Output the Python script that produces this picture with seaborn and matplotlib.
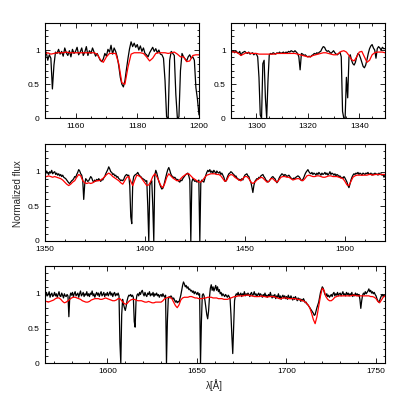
import numpy as np
import matplotlib
matplotlib.use("Agg")
import matplotlib.pyplot as plt
from matplotlib.ticker import MultipleLocator, FuncFormatter
import seaborn as sns

# ---------------- data ----------------
# Panel 1: observed (0.5 A step from 1150) and model (1 A step from 1150)
obs1_start, obs1_step = 1150.0, 0.5
obs1 = [
    0.93, 0.97, 0.85, 0.93, 0.88, 0.43, 0.78, 0.97, 0.95, 1.01,
    0.94, 0.98, 0.91, 1.03, 0.96, 0.92, 0.99, 0.90, 1.01, 0.95,
    0.98, 1.04, 0.93, 0.97, 1.03, 0.92, 0.97, 1.05, 0.92, 0.99,
    0.95, 1.03, 0.97, 0.91, 0.95, 0.90, 0.85, 0.83, 0.87, 0.95,
    0.91, 1.01, 0.97, 1.07, 0.94, 1.03, 0.98, 0.90, 0.77, 0.60,
    0.50, 0.46, 0.55, 0.72, 0.88, 1.02, 1.12, 1.05, 1.10, 1.04,
    1.08, 1.00, 1.06, 0.98, 1.03, 0.95, 0.93, 0.90, 0.96, 1.00,
    1.04, 0.98, 1.02, 0.96, 1.00, 0.94, 0.93, 0.88, 0.55, 0.02,
    0.00, 0.85, 0.98, 0.95, 0.92, 0.35, 0.00, 0.02, 0.70, 0.95,
    0.90, 0.87, 0.84, 0.90, 0.93, 0.88, 0.90, 0.85, 0.45, 0.28,
    0.05,
]
mod1_start, mod1_step = 1150.0, 1.0
mod1 = [
    0.94, 0.96, 0.94, 0.95, 0.96, 0.96, 0.96, 0.97, 0.96, 0.96,
    0.96, 0.96, 0.96, 0.96, 0.96, 0.96, 0.96, 0.94, 0.86, 0.82,
    0.90, 0.95, 0.95, 0.95, 0.80, 0.52, 0.50, 0.75, 0.94, 0.96,
    0.96, 0.96, 0.95, 0.90, 0.84, 0.88, 0.95, 0.96, 0.96, 0.96,
    0.95, 0.96, 0.97, 0.94, 0.90, 0.90, 0.83, 0.84, 0.92, 0.93,
    0.93,
]

# Panel 2
obs2_start, obs2_step = 1290.0, 0.5
obs2 = [
    0.98, 0.97, 0.99, 0.96, 0.98, 0.97, 0.95, 0.98, 0.92, 0.96,
    0.97, 0.98, 0.96, 0.95, 0.97, 0.94, 0.95, 0.96, 0.93, 0.95,
    0.94, 0.90, 0.60, 0.05, 0.00, 0.80, 0.85, 0.30, 0.00, 0.55,
    0.93, 0.95, 0.94, 0.96, 0.95, 0.94, 0.96, 0.95, 0.97, 0.95,
    0.96, 0.97, 0.95, 0.97, 0.96, 0.98, 0.97, 0.99, 0.98, 0.97,
    0.99, 0.97, 0.95, 0.90, 0.71, 0.95, 0.94, 0.92, 0.93, 0.91,
    0.90, 0.91, 0.90, 0.92, 0.93, 0.95, 0.94, 0.96, 0.95, 0.97,
    0.98, 1.02, 1.05, 1.04, 1.00, 0.98, 0.99, 0.97, 0.95, 0.97,
    0.99, 0.96, 0.94, 0.93, 0.95, 0.97, 0.90, 0.10, 0.00, 0.00,
    0.60, 0.30, 0.90, 0.93, 0.85, 0.80, 0.78, 0.82, 0.90, 0.95,
    0.93, 0.88, 0.82, 0.76, 0.74, 0.78, 0.86, 0.95, 1.02, 1.06,
    1.08, 1.03, 1.00, 0.88, 1.02, 1.05, 1.03, 1.00, 1.04, 1.02,
    1.02,
]
mod2_start, mod2_step = 1290.0, 1.0
mod2 = [
    0.98, 0.97, 0.97, 0.95, 0.92, 0.94, 0.96, 0.96, 0.95, 0.95,
    0.95, 0.94, 0.94, 0.94, 0.94, 0.94, 0.94, 0.94, 0.95, 0.95,
    0.95, 0.95, 0.95, 0.95, 0.95, 0.95, 0.94, 0.93, 0.92, 0.91,
    0.90, 0.90, 0.92, 0.93, 0.94, 0.95, 0.96, 0.96, 0.95, 0.94,
    0.93, 0.93, 0.95, 0.98, 0.99, 0.97, 0.92, 0.86, 0.84, 0.90,
    0.97, 0.98, 0.90, 0.82, 0.85, 0.93, 0.96, 0.97, 0.97, 0.97,
    0.96,
]

# Panel 3
obs3_start, obs3_step = 1350.0, 0.5
obs3 = [
    1.00, 0.97, 1.01, 0.98, 0.96, 1.00, 0.98, 1.02, 0.97, 0.99, 1.00, 0.96, 0.98, 0.95, 0.97, 0.94, 0.96, 0.93, 0.95, 0.92,
    0.91, 0.90, 0.88, 0.86, 0.84, 0.83, 0.85, 0.87, 0.88, 0.90, 0.93, 0.92, 0.96, 0.99, 1.03, 1.01, 0.97, 0.95, 0.88, 0.60,
    0.82, 0.90, 0.88, 0.86, 0.87, 0.90, 0.93, 0.91, 0.87, 0.85, 0.88, 0.86, 0.89, 0.87, 0.90, 0.88, 0.86, 0.89, 0.88, 0.91,
    0.93, 0.97, 1.00, 1.03, 1.07, 1.04, 1.00, 0.99, 0.96, 0.97, 0.94, 0.95, 0.92, 0.93, 0.90, 0.89, 0.87, 0.88, 0.87, 0.89,
    0.93, 0.95, 0.96, 0.94, 0.95, 0.80, 0.35, 0.25, 0.85, 0.93, 0.95, 0.96, 0.97, 0.99, 0.96, 0.94, 0.93, 0.91, 0.90, 0.89,
    0.88, 0.86, 0.87, 0.50, 0.00, 0.80, 0.85, 0.87, 0.50, 0.00, 0.95, 1.02, 0.98, 0.92, 0.86, 0.82, 0.78, 0.75, 0.76, 0.80,
    0.86, 0.92, 0.98, 1.03, 1.06, 1.02, 0.97, 0.94, 0.93, 0.91, 0.92, 0.90, 0.88, 0.89, 0.86, 0.85, 0.88, 0.87, 0.90, 0.92,
    0.94, 0.96, 0.97, 0.98, 0.94, 0.88, 0.00, 0.85, 0.90, 0.88, 0.86, 0.87, 0.85, 0.86, 0.88, 0.00, 0.85, 0.88, 0.86, 0.85,
    0.90, 0.95, 0.99, 1.02, 1.00, 1.03, 0.99, 1.01, 0.98, 1.02, 1.00, 0.97, 1.01, 0.99, 0.98, 1.00, 0.96, 0.98, 0.95, 0.92,
    0.87, 0.86, 0.90, 0.94, 0.97, 0.98, 1.00, 0.99, 0.97, 0.96, 0.93, 0.94, 0.91, 0.90, 0.88, 0.89, 0.87, 0.90, 0.88, 0.92,
    0.95, 0.96, 0.97, 0.94, 0.93, 0.88, 0.85, 0.78, 0.70, 0.80, 0.86, 0.88, 0.90, 0.89, 0.92, 0.91, 0.94, 0.95, 0.96, 0.93,
    0.91, 0.88, 0.87, 0.85, 0.86, 0.88, 0.90, 0.92, 0.93, 0.91, 0.90, 0.87, 0.84, 0.86, 0.90, 0.93, 0.95, 0.97, 0.96, 0.94,
    0.96, 0.95, 0.93, 0.94, 0.95, 0.93, 0.91, 0.90, 0.89, 0.91, 0.90, 0.92, 0.93, 0.94, 0.93, 0.91, 0.88, 0.87, 0.89, 0.92,
    0.96, 0.99, 1.01, 1.03, 1.00, 0.98, 0.97, 0.99, 0.96, 0.98, 0.97, 0.95, 0.98, 0.96, 0.99, 0.97, 0.95, 0.98, 0.96, 0.97,
    0.99, 0.96, 0.98, 0.95, 0.97, 1.00, 0.96, 0.98, 0.97, 0.95, 0.97, 0.94, 0.96, 0.95, 0.93, 0.94, 0.91, 0.92, 0.90, 0.93,
    0.91, 0.88, 0.85, 0.80, 0.77, 0.82, 0.88, 0.92, 0.95, 0.97, 0.96, 0.98, 0.97, 0.99, 0.96, 0.98, 0.97, 0.95, 0.98, 0.97,
    0.96, 0.98, 0.97, 0.99, 0.96, 0.97, 0.98, 0.95, 0.97, 0.96, 0.98, 0.96, 0.97, 0.95, 0.98, 0.96, 0.97, 0.95, 0.96, 0.92,
    0.95,
]
mod3_start, mod3_step = 1350.0, 1.0
mod3 = [
    0.93, 0.93, 0.94, 0.93, 0.92, 0.93, 0.92, 0.91, 0.90, 0.88,
    0.85, 0.82, 0.80, 0.82, 0.85, 0.87, 0.92, 0.96, 0.94, 0.87,
    0.84, 0.83, 0.84, 0.83, 0.84, 0.86, 0.87, 0.87, 0.88, 0.90,
    0.93, 0.96, 0.98, 0.96, 0.93, 0.91, 0.89, 0.87, 0.84, 0.82,
    0.87, 0.92, 0.93, 0.86, 0.80, 0.88, 0.95, 0.94, 0.92, 0.88,
    0.84, 0.80, 0.81, 0.86, 0.93, 0.97, 0.93, 0.87, 0.80, 0.77,
    0.83, 0.92, 0.97, 0.94, 0.91, 0.89, 0.87, 0.87, 0.90, 0.93,
    0.95, 0.97, 0.97, 0.94, 0.91, 0.89, 0.87, 0.85, 0.85, 0.88,
    0.92, 0.95, 0.96, 0.97, 0.97, 0.97, 0.96, 0.96, 0.94, 0.90,
    0.86, 0.88, 0.94, 0.96, 0.95, 0.92, 0.90, 0.88, 0.87, 0.90,
    0.93, 0.93, 0.90, 0.85, 0.83, 0.85, 0.88, 0.90, 0.92, 0.91,
    0.88, 0.85, 0.86, 0.90, 0.90, 0.87, 0.85, 0.88, 0.92, 0.93,
    0.93, 0.92, 0.92, 0.90, 0.88, 0.89, 0.90, 0.90, 0.88, 0.87,
    0.90, 0.94, 0.95, 0.94, 0.93, 0.93, 0.94, 0.94, 0.93, 0.92,
    0.92, 0.93, 0.94, 0.94, 0.93, 0.93, 0.93, 0.92, 0.91, 0.90,
    0.86, 0.81, 0.80, 0.86, 0.92, 0.94, 0.95, 0.95, 0.95, 0.95,
    0.95, 0.95, 0.96, 0.96, 0.95, 0.96, 0.96, 0.96, 0.96, 0.96,
    0.96,
]

# Panel 4
obs4_start, obs4_step = 1565.0, 0.5
obs4 = [
    1.00, 0.96, 1.02, 0.97, 0.99, 1.03, 0.95, 0.99, 1.01, 0.96,
    0.98, 1.02, 0.97, 1.00, 0.95, 0.99, 1.03, 0.97, 0.96, 1.01, 0.98, 0.94, 1.00, 0.97, 0.96, 0.99, 0.97, 0.67, 0.95, 1.01,
    0.98, 1.02, 0.96, 1.00, 1.03, 0.97, 0.99, 1.01, 0.95, 1.00, 1.04, 0.97, 0.99, 1.02, 0.96, 1.00, 0.98, 1.03, 0.97, 1.00,
    0.96, 1.01, 0.99, 1.04, 0.97, 1.00, 0.95, 0.99, 1.02, 0.98, 1.01, 0.96, 1.00, 1.03, 0.97, 0.99, 1.02, 0.96, 1.00, 0.98,
    1.02, 0.97, 1.00, 1.03, 0.98, 1.01, 0.96, 1.00, 1.02, 0.97, 1.00, 0.98, 1.01, 0.97, 0.30, 0.00, 0.70, 0.92, 0.85, 0.80,
    0.76, 0.82, 0.90, 0.95, 0.98, 0.97, 0.99, 0.96, 0.98, 0.95, 0.60, 0.52, 0.90, 0.98, 1.00, 0.97, 1.02, 0.99, 1.03, 1.05,
    1.00, 0.97, 1.02, 0.98, 0.96, 1.01, 0.99, 1.03, 0.97, 1.00, 0.98, 1.02, 0.96, 1.00, 0.98, 1.01, 0.97, 0.99, 0.95, 0.98,
    0.99, 0.96, 1.00, 0.97, 0.95, 0.98, 0.00, 0.60, 0.93, 0.96, 0.94, 0.97, 0.95, 0.92, 0.94, 0.91, 0.88, 0.90, 0.87, 0.89,
    0.88, 0.93, 0.98, 1.05, 1.12, 1.17, 1.14, 1.10, 1.12, 1.08, 1.10, 1.06, 1.07, 1.04, 1.05, 1.02, 1.04, 1.00, 1.03, 1.01,
    0.99, 1.02, 0.98, 1.00, 0.00, 0.60, 0.98, 1.00, 0.97, 0.90, 0.80, 0.70, 0.64, 0.75, 0.95, 1.08, 1.13, 1.05, 1.10, 1.04,
    1.08, 1.12, 1.05, 1.10, 1.03, 1.06, 1.00, 1.02, 0.97, 1.00, 0.98, 0.96, 0.99, 0.97, 0.95, 0.98, 0.96, 0.93, 0.70, 0.40,
    0.14, 0.50, 0.90, 0.97, 1.00, 0.98, 1.02, 0.97, 0.99, 1.01, 0.96, 1.00, 0.98, 1.03, 0.97, 1.00, 0.98, 1.01, 0.99, 0.96,
    1.00, 1.02, 0.97, 0.99, 1.03, 0.98, 1.00, 0.96, 0.99, 1.01, 0.97, 1.00, 0.98, 0.95, 0.99, 0.97, 1.01, 0.96, 0.98, 0.95,
    0.99, 0.96, 1.02, 0.97, 0.94, 0.98, 0.95, 0.99, 0.93, 0.97, 0.95, 1.00, 0.94, 0.97, 0.92, 0.96, 0.98, 0.94, 0.97, 0.93,
    0.96, 0.92, 0.98, 0.95, 0.93, 0.97, 0.94, 0.91, 0.95, 0.92, 0.96, 0.93, 0.90, 0.94, 0.91, 0.93, 0.89, 0.92, 0.90, 0.93,
    0.90, 0.87, 0.88, 0.85, 0.84, 0.82, 0.80, 0.78, 0.76, 0.74, 0.72, 0.69, 0.70, 0.75, 0.80, 0.84, 0.88, 0.95, 1.02, 1.06,
    1.10, 1.08, 1.03, 0.99, 0.97, 1.00, 0.96, 0.98, 0.95, 0.97, 0.99, 0.96, 1.00, 1.02, 0.97, 1.00, 0.98, 1.02, 0.97, 1.00,
    1.01, 0.97, 1.00, 1.03, 0.98, 1.00, 0.97, 1.02, 0.99, 1.01, 0.97, 1.00, 0.98, 1.02, 0.96, 0.99, 0.97, 1.01, 0.98, 1.00,
    0.97, 0.99, 0.92, 0.79, 0.90, 0.98, 1.01, 0.99, 1.03, 1.00, 1.02, 1.04, 1.07, 1.03, 1.05, 1.01, 1.03, 1.00, 1.02, 0.99,
    0.97, 0.93, 0.90, 0.88, 0.90, 0.94, 0.97, 0.99, 0.96, 0.98, 0.97,
]
mod4_start, mod4_step = 1565.0, 1.0
mod4 = [
    0.89, 0.89, 0.88, 0.89, 0.90, 0.91, 0.93, 0.94, 0.94, 0.92,
    0.89, 0.87, 0.88, 0.90, 0.92, 0.94, 0.95, 0.95, 0.94, 0.93,
    0.92, 0.90, 0.89, 0.88, 0.88, 0.89, 0.91, 0.92, 0.93, 0.93,
    0.93, 0.92, 0.92, 0.93, 0.94, 0.93, 0.92, 0.91, 0.90, 0.90,
    0.91, 0.93, 0.93, 0.90, 0.87, 0.85, 0.86, 0.89, 0.91, 0.92,
    0.92, 0.91, 0.90, 0.90, 0.90, 0.89, 0.88, 0.88, 0.89, 0.88,
    0.87, 0.87, 0.88, 0.88, 0.88, 0.88, 0.90, 0.93, 0.94, 0.95,
    0.95, 0.93, 0.88, 0.83, 0.80, 0.84, 0.91, 0.94, 0.95, 0.95,
    0.95, 0.96, 0.96, 0.95, 0.94, 0.94, 0.93, 0.93, 0.93, 0.94,
    0.94, 0.95, 0.95, 0.95, 0.94, 0.94, 0.94, 0.93, 0.93, 0.93,
    0.92, 0.92, 0.92, 0.93, 0.94, 0.95, 0.96, 0.96, 0.97, 0.97,
    0.97, 0.97, 0.98, 0.98, 0.98, 0.97, 0.97, 0.96, 0.96, 0.96,
    0.96, 0.97, 0.96, 0.96, 0.95, 0.96, 0.96, 0.96, 0.96, 0.95,
    0.94, 0.93, 0.93, 0.94, 0.94, 0.94, 0.93, 0.93, 0.93, 0.93,
    0.93, 0.92, 0.92, 0.91, 0.90, 0.89, 0.87, 0.84, 0.80, 0.72,
    0.63, 0.57, 0.67, 0.82, 0.97, 1.08, 1.05, 0.96, 0.92, 0.90,
    0.90, 0.92, 0.95, 0.96, 0.97, 0.97, 0.97, 0.97, 0.97, 0.97,
    0.97, 0.97, 0.98, 0.98, 0.97, 0.97, 0.97, 0.97, 0.97, 0.97,
    0.97, 0.97, 0.96, 0.96, 0.95, 0.93, 0.89, 0.87, 0.91, 0.95,
    0.97,
]

panel_xlims = [(1150, 1200), (1290, 1350), (1350, 1520), (1565, 1755)]
panel_xmajor = [20, 20, 50, 50]
panel_xminor = [5, 5, 10, 10]
y_label = "Normalized flux"
x_label = "λ[Å]"

# ---------------- style ----------------
sns.set_style("ticks")
plt.rcParams["font.family"] = ["Liberation Sans", "DejaVu Sans"]
plt.rcParams["font.size"] = 6

fig = plt.figure(figsize=(4.07, 4.07), dpi=100)
rects = [
    [0.1098, 0.7093, 0.3791, 0.2349],
    [0.5668, 0.7093, 0.3791, 0.2349],
    [0.1098, 0.4079, 0.8361, 0.2383],
    [0.1098, 0.1074, 0.8361, 0.2391],
]
series = [
    (obs1_start, obs1_step, obs1, mod1_start, mod1_step, mod1),
    (obs2_start, obs2_step, obs2, mod2_start, mod2_step, mod2),
    (obs3_start, obs3_step, obs3, mod3_start, mod3_step, mod3),
    (obs4_start, obs4_step, obs4, mod4_start, mod4_step, mod4),
]

yfmt = FuncFormatter(lambda v, p: "%g" % round(v, 2))
axes = []
for i, rect in enumerate(rects):
    ax = fig.add_axes(rect)
    os_, ost, ob, ms, mst, md = series[i]
    xo = os_ + ost * np.arange(len(ob))
    xm = ms + mst * np.arange(len(md))
    sns.lineplot(x=xo, y=np.array(ob), ax=ax, color="black", linewidth=0.9,
                 estimator=None, sort=False, legend=False)
    sns.lineplot(x=xm, y=np.array(md), ax=ax, color="#ff0000", linewidth=0.9,
                 estimator=None, sort=False, legend=False)
    ax.set_xlim(*panel_xlims[i])
    ax.set_ylim(0, 1.4)
    ax.xaxis.set_major_locator(MultipleLocator(panel_xmajor[i]))
    ax.xaxis.set_minor_locator(MultipleLocator(panel_xminor[i]))
    ax.yaxis.set_major_locator(MultipleLocator(0.5))
    ax.yaxis.set_minor_locator(MultipleLocator(0.1))
    ax.yaxis.set_major_formatter(yfmt)
    ax.tick_params(which="both", direction="in", top=True, right=True,
                   width=0.6, labelsize=6, pad=3.5, colors="black")
    ax.tick_params(which="major", length=3.5)
    ax.tick_params(which="minor", length=1.8)
    for s in ax.spines.values():
        s.set_linewidth(0.8)
        s.set_color("black")
    ax.set_xlabel("")
    ax.set_ylabel("")
    axes.append(ax)

axes[3].set_xlabel(x_label, fontsize=7, labelpad=3)
fig.text(0.043, 0.525, y_label, rotation=90, ha="center", va="center", fontsize=7)

fig.savefig("out.png", dpi=100)
